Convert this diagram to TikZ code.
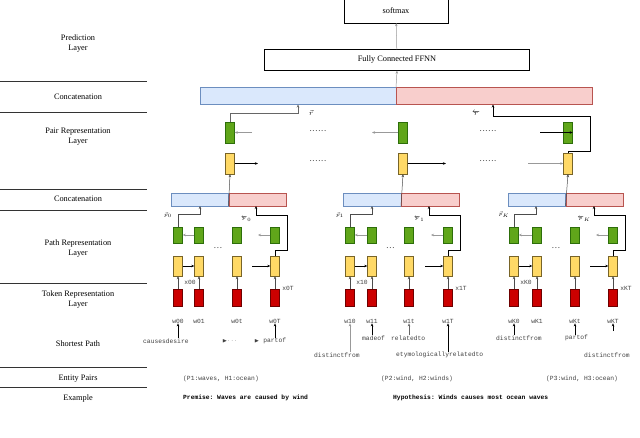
\documentclass[tikz,border=0pt]{standalone}
\usepackage{fontspec}
\usepackage{amssymb}
\setmainfont{Liberation Serif}
\setmonofont{Liberation Mono}
\usetikzlibrary{arrows.meta}
\definecolor{gfill}{RGB}{96,166,26}
\definecolor{gdraw}{RGB}{45,110,10}
\definecolor{yfill}{RGB}{255,217,102}
\definecolor{ydraw}{RGB}{120,100,40}
\definecolor{rfill}{RGB}{204,0,0}
\definecolor{rdraw}{RGB}{110,0,0}
\definecolor{bfill}{RGB}{218,232,252}
\definecolor{bdraw}{RGB}{108,142,191}
\definecolor{pfill}{RGB}{248,206,204}
\definecolor{pdraw}{RGB}{184,84,80}
\begin{document}
\begin{tikzpicture}[x=1pt,y=-1pt,
  every node/.style={inner sep=0pt},
  lab/.style={font=\fontsize{8.3}{10}\selectfont,align=center},
  mono/.style={font=\ttfamily\fontsize{6.3}{7}\selectfont,text=black!75},
  gbox/.style={draw=gdraw,fill=gfill,minimum width=9pt,minimum height=#1},
  ybox/.style={draw=ydraw,fill=yfill,minimum width=9pt,minimum height=#1},
  rbox/.style={draw=rdraw,fill=rfill,minimum width=9pt,minimum height=17pt},
  bbar/.style={draw=bdraw,fill=bfill,minimum height=#1,anchor=east},
  pbar/.style={draw=pdraw,fill=pfill,minimum height=#1,anchor=west},
  arr/.style={-{Stealth[length=3pt,width=2.5pt]},line width=0.5pt},
  garr/.style={arr,draw=black!40},
  dotsty/.style={font=\scriptsize\bfseries,text=black!70},
  sep/.style={line width=0.7pt,draw=black!80}]
\useasboundingbox (0,0) rectangle (640,437);

% left column labels and separators
\node[lab] (lpred) at (78,44) {Prediction\\Layer};
\node[lab] (lcat1) at (78,97) {Concatenation};
\node[lab] (lpair) at (78,137) {Pair Representation\\Layer};
\node[lab] (lcat2) at (78,199) {Concatenation};
\node[lab] (lpath) at (78,249) {Path Representation\\Layer};
\node[lab] (ltok) at (78,300) {Token Representation\\Layer};
\node[lab] (lsp) at (78,344) {Shortest Path};
\node[lab] (lent) at (78,379) {Entity Pairs};
\node[lab] (lex) at (78,398) {Example};
\foreach \y in {81,112,189,210,283,367,387}
  \draw[sep] (0,\y) -- (147,\y);

% prediction layer
\node[draw,minimum width=104pt,minimum height=24pt,lab] (soft) at (396,11) {softmax};
\node[draw,minimum width=265pt,minimum height=21pt,lab] (ffnn) at (397,60) {Fully Connected FFNN};
\draw[garr] (ffnn) -- (soft);

% top concatenation
\node[bbar=17pt,minimum width=196pt] (tb) at (396,96) {};
\node[pbar=17pt,minimum width=196pt] (tr) at (396,96) {};
\coordinate (tmid) at (396,87.5);
\draw[garr] (tmid) -- (ffnn.south);

% pair representation
\foreach \n/\x in {l/230,m/403,r/568}{
  \node[gbox=21pt] (pg\n) at (\x,132.5) {};
  \node[ybox=21pt] (py\n) at (\x,163.5) {};
}
\foreach \x in {318,488}{
  \node[dotsty] (dd\x a) at (\x,131) {.\,.\,.\,.\,.\,.};
  \node[dotsty] (dd\x b) at (\x,161) {.\,.\,.\,.\,.\,.};
}
\coordinate (pgla) at (252,132.5);
\coordinate (pgmb) at (372,132.5);
\coordinate (pgra) at (540,132.5);
\coordinate (pylb) at (258,163.5);
\coordinate (pymb) at (446,163.5);
\coordinate (pyra) at (528,163.5);
\draw[garr] (pgla) -- (pgl.east);
\draw[garr] (pgm.west) -- (pgmb);
\draw[arr] (pgra) -- (pgr.east);
\draw[arr] (pyl.east) -- (pylb);
\draw[arr] (pym.east) -- (pymb);
\draw[garr] (pyra) -- (pyr.west);
\draw[arr,draw=black!60] (pgl.north) |- (298,113) -- (298,104.5);
\node (rf) at (311,113) {\scriptsize$\vec{r}$};
\draw[arr] (pyr.north) -- (568,151) -- (590,151) -- (590,116) -- (493,116) -- (493,104.5);
\node (rb) at (476,113) {\scriptsize$\overleftarrow{r}$};

% path groups
\foreach \g/\ca/\cb/\cc/\cd/\k in {0/178/199/237/275/0,1/350/372/409/448/1,2/514/537/575/613/K}{
  \pgfmathsetmacro\mid{(\ca+\cd)/2}
  \node[bbar=13pt,minimum width=57.5pt] (bb\g) at (\mid+2,199.5) {};
  \node[pbar=13pt,minimum width=57.5pt] (br\g) at (\mid+2,199.5) {};
  \foreach \i/\x in {1/\ca,2/\cb,3/\cc,4/\cd}{
    \node[gbox=16pt] (g\g\i) at (\x,235) {};
    \node[ybox=20pt] (y\g\i) at (\x,266) {};
    \node[rbox] (r\g\i) at (\x,297.5) {};
    \draw[arr,draw=black!70] (r\g\i.north) -- (y\g\i.south);
  }
  \node[dotsty] (dots\g) at ({(\cb+\cc)/2},248) {.\,.\,.};
  \draw[arr] (y\g1.east) -- (y\g2.west);
  \coordinate (yin\g) at (\cd-23,266);
  \draw[arr] (yin\g) -- (y\g4.west);
  \draw[garr] (g\g2.west) -- (g\g1.east);
  \coordinate (gout\g) at (\cd-17,235);
  \draw[garr] (g\g4.west) -- (gout\g);
  \draw[arr,draw=black!70] (g\g1.north) |- (\ca+22,214) -- (\ca+22,206);
  \node (pf\g) at (\ca-10,215) {\tiny$\vec{p}_{\k}$};
  \draw[arr] (y\g4.north) -- (\cd,250) -- (\cd+12,250) -- (\cd+12,215) -- (\cd-19,215) -- (\cd-19,206);
  \node (pb\g) at (\cd-29,219) {\tiny$\overleftarrow{p}_{\k}$};
  \node[mono] (x\g a) at (\ca+12,282) {x\k0};
  \node[mono] (x\g b) at (\cd+13,288) {x\k T};
  \node[mono] (w\g1) at (\ca,321) {w\k0};
  \node[mono] (w\g2) at (\cb,321) {w\k1};
  \node[mono] (w\g3) at (\cc,321) {w\k t};
  \node[mono] (w\g4) at (\cd,321) {w\k T};
}
% bar to pair representation
\foreach \g/\n in {0/l,1/m,2/r}
  \draw[arr,draw=black!70] (bb\g.south east) -- (py\n.south);

% shortest paths
\node[mono,anchor=west] (s01) at (143,341) {causesdesire};
\node[mono,anchor=west] (s02) at (222,341) {{\tiny$\blacktriangleright$}$\cdots$};
\node[mono,anchor=west] (s03) at (254,341) {{\tiny$\blacktriangleright$} partof};
\draw[arr] (s01.north -| w01) -- (w01.south);
\draw[arr] (s03.north -| w04) -- (w04.south);
\node[mono,anchor=west] (s11) at (362,338) {madeof};
\node[mono,anchor=west] (s12) at (391,338) {relatedto};
\node[mono,anchor=west] (s13) at (314,355) {distinctfrom};
\node[mono,anchor=west] (s14) at (396,355) {etymologicallyrelatedto};
\draw[garr] (s13.north -| w11) -- (w11.south);
\draw[arr] (s11.north -| w12) -- (w12.south);
\draw[arr,draw=black!60] (s12.north -| w13) -- (w13.south);
\draw[arr] (s14.north -| w14) -- (w14.south);
\node[mono,anchor=west] (s21) at (496,338) {distinctfrom};
\node[mono,anchor=west] (s22) at (565,338) {partof};
\node[mono,anchor=west] (s23) at (584,355) {distinctfrom};
\draw[arr] (s21.north -| w21) -- (w21.south);
\draw[arr] (s22.north -| w23) -- (w23.south);
\coordinate (s23t) at (613,331);
\draw[arr] (s23t) -- (w24.south);

% entity pairs and example
\node[mono,anchor=west] (e0) at (183,379) {(P1:waves, H1:ocean)};
\node[mono,anchor=west] (e1) at (381,379) {(P2:wind, H2:winds)};
\node[mono,anchor=west] (e2) at (546,379) {(P3:wind, H3:ocean)};
\node[anchor=west,font=\ttfamily\bfseries\fontsize{6.3}{7}\selectfont] (ex0) at (183,398) {Premise: Waves are caused by wind};
\node[anchor=west,font=\ttfamily\bfseries\fontsize{6.3}{7}\selectfont] (ex1) at (393,398) {Hypothesis: Winds causes most ocean waves};
\end{tikzpicture}
\end{document}
